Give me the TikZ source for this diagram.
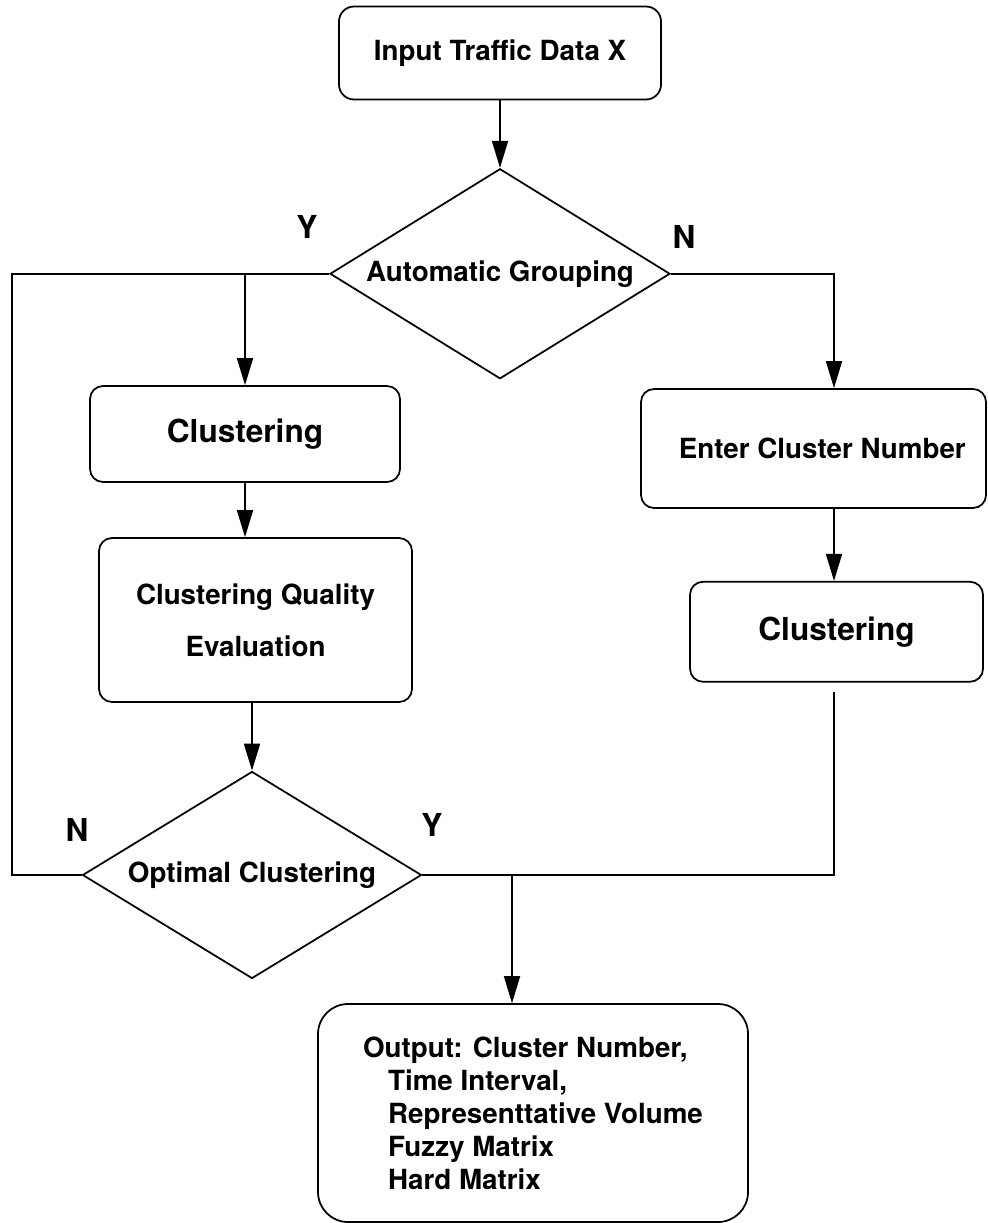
\documentclass[tikz,border=0pt]{standalone}
\usepackage{fontspec}
\setmainfont{TeX Gyre Heros}
\usetikzlibrary{arrows.meta, positioning, shapes.geometric}

\begin{document}
\begin{tikzpicture}[
    line width=1pt,
    >={Triangle[length=5.4mm,width=3.2mm]},
    txt/.style={font=\bfseries\fontsize{15.8}{19}\selectfont},
    big/.style={font=\bfseries\fontsize{18}{22}\selectfont},
    box/.style={rectangle, draw, rounded corners=#1, align=center, txt},
    box/.default=2.6mm,
    decision/.style={diamond, draw, aspect=1.63, inner sep=0pt, align=center, txt}
]
\useasboundingbox (0,0) rectangle (19.74,-24.46);

\node[box=3mm, minimum width=6.44cm, minimum height=1.86cm] (in) at (10,-1.06) {Input Traffic Data X};
\node[decision, minimum width=6.8cm, minimum height=4.2cm, below=1.35cm of in] (auto) {Automatic Grouping};

% left branch
\node[box, big, minimum width=6.2cm, minimum height=1.92cm] (clus1) at (4.9,-8.68) {Clustering};
\node[box, minimum width=6.26cm, minimum height=3.28cm, font=\bfseries\fontsize{15.8}{29.6}\selectfont] (qual) at (5.11,-12.4) {Clustering Quality\\Evaluation};
\node[decision, minimum width=6.78cm, minimum height=4.14cm] (opt) at (5.04,-17.5) {Optimal Clustering};

% right branch
\node[box, minimum width=6.9cm, minimum height=2.38cm] (enter) at (16.27,-8.97) {\hspace*{0.35cm}Enter Cluster Number};
\node[box, big, minimum width=5.86cm, minimum height=2cm, below=1.44cm of enter, xshift=0.46cm] (clus2) {Clustering};

\node[box=6mm, minimum width=8.6cm, minimum height=4.36cm, align=left, font=\bfseries\fontsize{15.8}{18.8}\selectfont] (out) at (10.66,-22.26)
  {Output: Cluster Number,\\
   \hspace*{0.5cm}Time Interval,\\
   \hspace*{0.5cm}Representtative Volume\\
   \hspace*{0.5cm}Fuzzy Matrix\\
   \hspace*{0.5cm}Hard Matrix};

\node[big] (y1) at (6.14,-4.54) {Y};
\node[big] (n1) at (13.68,-4.74) {N};
\node[big] (n2) at (1.54,-16.6) {N};
\node[big] (y2) at (8.64,-16.5) {Y};

\coordinate (lft) at (0.24,0);
\coordinate (rgt) at (16.68,0);
\coordinate (mrg) at (10.24,0);
\coordinate[below=0.18cm of clus2.south] (jn);

\draw[->] (in) -- (auto);
\draw (auto.west) -- (lft |- auto.west) |- (opt.west);
\draw[->] (clus1.north |- auto.west) -- (clus1.north);
\draw[->] (clus1.south) -- (clus1.south |- qual.north);
\draw[->] (qual.south -| opt.north) -- (opt.north);
\draw[->] (auto.east) -- (rgt |- auto.east) -- (rgt |- enter.north);
\draw[->] (rgt |- enter.south) -- (rgt |- clus2.north);
\draw (rgt |- jn) |- (opt.east);
\draw[->] (mrg |- opt.east) -- (mrg |- out.north);
\end{tikzpicture}
\end{document}
